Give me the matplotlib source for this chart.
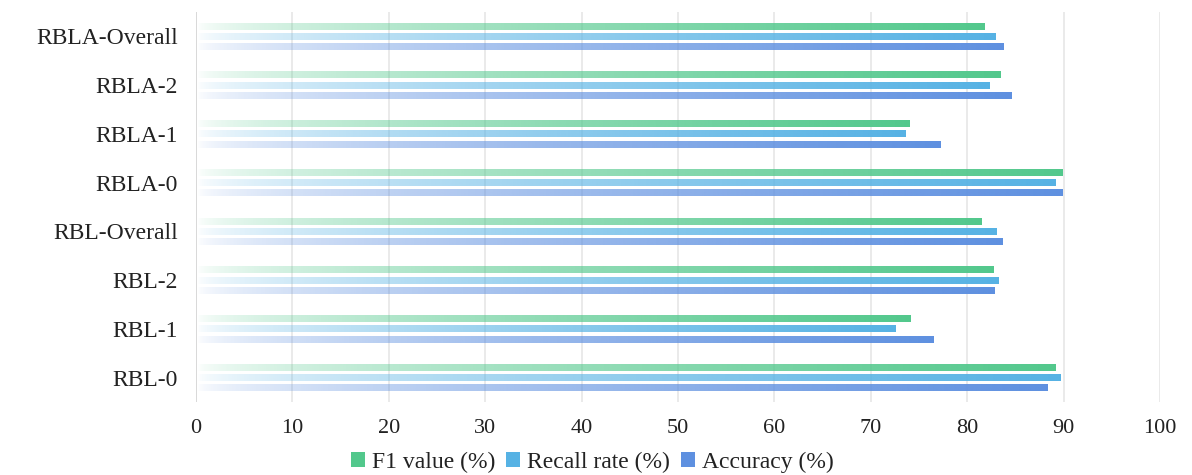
import numpy as np
import matplotlib
matplotlib.use("Agg")
import matplotlib.pyplot as plt
from matplotlib.colors import to_rgb
from matplotlib.patches import Patch

# Categories listed bottom to top
categories = ["RBL-0", "RBL-1", "RBL-2", "RBL-Overall",
              "RBLA-0", "RBLA-1", "RBLA-2", "RBLA-Overall"]

f1_values = [89.2, 74.1, 82.7, 81.5, 89.9, 74.0, 83.5, 81.8]
recall_values = [89.7, 72.6, 83.2, 83.0, 89.2, 73.6, 82.3, 82.9]
accuracy_values = [88.3, 76.5, 82.8, 83.7, 89.9, 77.2, 84.6, 83.8]

series_names = ["F1 value (%)", "Recall rate (%)", "Accuracy (%)"]
series_colors = ["#52c88c", "#56b2e4", "#5e90e0"]
x_ticks = [0, 10, 20, 30, 40, 50, 60, 70, 80, 90, 100]

plt.rcParams["font.family"] = ["Liberation Serif", "DejaVu Serif"]

fig = plt.figure(figsize=(11.92, 4.75), dpi=100)
ax = fig.add_axes([0.1644, 0.1537, 0.8087, 0.821])

bar_h = 0.14
offsets = [0.21, 0.0, -0.21]
all_series = [f1_values, recall_values, accuracy_values]

# horizontal fade: transparent at zero, full colour at the bar's end
n_grad = 256
t = np.linspace(0, 1, n_grad)
alpha = t ** 0.6

for series, color, off in zip(all_series, series_colors, offsets):
    rgb = np.array(to_rgb(color))
    grad = np.zeros((1, n_grad, 4))
    grad[0, :, :3] = rgb
    grad[0, :, 3] = alpha
    for i, v in enumerate(series):
        y = i + off
        ax.imshow(grad, extent=[0, v, y - bar_h / 2, y + bar_h / 2],
                  aspect="auto", interpolation="bilinear", zorder=3)

ax.set_xlim(0, 100)
ax.set_ylim(-0.5, len(categories) - 0.5)
ax.set_yticks(range(len(categories)))
ax.set_yticklabels(categories)
ax.set_xticks(x_ticks)
ax.tick_params(axis="y", length=0, pad=13, labelsize=17, labelcolor="#222222")
ax.tick_params(axis="x", length=0, pad=12, labelsize=16, labelcolor="#222222")

for s in ax.spines.values():
    s.set_visible(False)
for xv in x_ticks:
    ax.axvline(xv, color="#d2d2d2" if xv == 0 else "#e6e6e6", lw=1.2, zorder=1)

handles = [Patch(facecolor=c, edgecolor="none", label=n)
           for c, n in zip(series_colors, series_names)]
fig.legend(handles=handles, loc="center", bbox_to_anchor=(0.497, 0.027),
           ncol=3, frameon=False, fontsize=17, handlelength=0.6,
           handleheight=0.6, handletextpad=0.3, columnspacing=0.45,
           labelcolor="#222222")

fig.savefig("out.png", dpi=100)
